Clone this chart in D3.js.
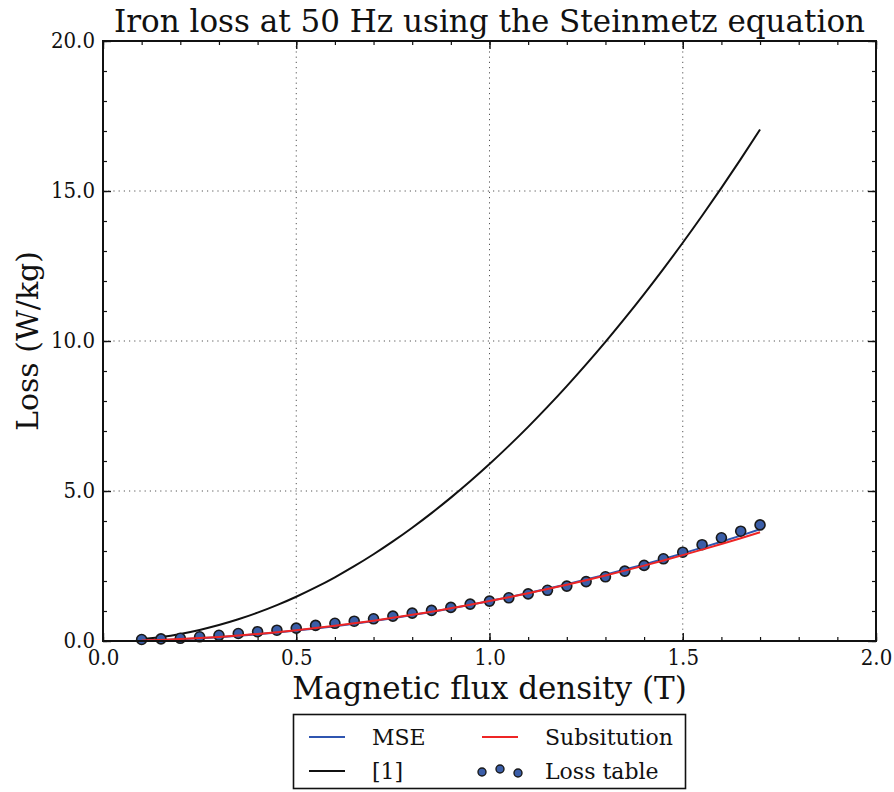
<!DOCTYPE html>
<html>
<head>
<meta charset="utf-8">
<script src="https://cdn.jsdelivr.net/npm/d3@7"></script>
<style>
  html, body { margin: 0; padding: 0; background: #fff; }
  svg text { font-family: "DejaVu Serif", serif; fill: #111; }
  svg text.cond { font-family: "DejaVu Serif Condensed", "DejaVu Serif", serif; font-stretch: condensed; }
</style>
</head>
<body>
<svg id="chart" width="894" height="792"></svg>
<script>
// Magnetic flux density samples (T)
const fluxDensity = [0.10, 0.15, 0.20, 0.25, 0.30, 0.35, 0.40, 0.45, 0.50, 0.55, 0.60,
  0.65, 0.70, 0.75, 0.80, 0.85, 0.90, 0.95, 1.00, 1.05, 1.10, 1.15, 1.20, 1.25, 1.30,
  1.35, 1.40, 1.45, 1.50, 1.55, 1.60, 1.65, 1.70];

// Measured loss table (W/kg)
const lossTable = [0.05, 0.07, 0.09, 0.14, 0.19, 0.25, 0.31, 0.36, 0.43, 0.52, 0.59,
  0.66, 0.74, 0.83, 0.93, 1.02, 1.12, 1.23, 1.33, 1.44, 1.57, 1.69, 1.83, 1.98, 2.14,
  2.33, 2.52, 2.74, 2.96, 3.21, 3.44, 3.66, 3.87];

// Steinmetz fit by least squares (W/kg)
const lossMSE = [0.015, 0.034, 0.059, 0.090, 0.129, 0.174, 0.225, 0.283, 0.347, 0.417, 0.494,
  0.577, 0.666, 0.761, 0.863, 0.970, 1.084, 1.204, 1.330, 1.462, 1.600, 1.744, 1.894, 2.051, 2.213,
  2.381, 2.555, 2.735, 2.921, 3.112, 3.310, 3.514, 3.723];

// Steinmetz fit by substitution (W/kg)
const lossSubstitution = [0.017, 0.037, 0.064, 0.097, 0.137, 0.183, 0.235, 0.294, 0.359, 0.430, 0.507,
  0.589, 0.678, 0.772, 0.872, 0.978, 1.090, 1.207, 1.330, 1.459, 1.593, 1.732, 1.877, 2.028, 2.184,
  2.345, 2.512, 2.685, 2.862, 3.045, 3.233, 3.427, 3.626];

// Steinmetz coefficients from reference [1] (W/kg)
const lossRef1 = [0.059, 0.133, 0.236, 0.369, 0.531, 0.723, 0.944, 1.195, 1.475, 1.785, 2.124,
  2.493, 2.891, 3.319, 3.776, 4.263, 4.779, 5.325, 5.900, 6.505, 7.139, 7.803, 8.496, 9.219, 9.971,
  10.753, 11.564, 12.405, 13.275, 14.175, 15.104, 16.063, 17.051];

const xTicks = [0.0, 0.5, 1.0, 1.5, 2.0];
const yTicks = [0.0, 5.0, 10.0, 15.0, 20.0];
const xMinorTicks = d3.range(0, 2.0001, 0.1);
const yMinorTicks = d3.range(0, 20.0001, 1);

const titleText = "Iron loss at 50 Hz using the Steinmetz equation";
const xLabel = "Magnetic flux density (T)";
const yLabel = "Loss (W/kg)";

const svg = d3.select("#chart");
const plot = { left: 103, right: 876, top: 41, bottom: 641 };

const x = d3.scaleLinear().domain([0, 2]).range([plot.left, plot.right]);
const y = d3.scaleLinear().domain([0, 20]).range([plot.bottom, plot.top]);

const colors = { mse: "#2f55b0", sub: "#ee2525", ref: "#111111", marker: "#3b5ea8" };

// dotted grid at inner major ticks
const grid = svg.append("g").attr("stroke", "#555").attr("stroke-width", 1).attr("stroke-dasharray", "1.2,4");
grid.selectAll(".gx").data(xTicks.slice(1, -1)).join("line")
  .attr("x1", d => x(d)).attr("x2", d => x(d)).attr("y1", plot.top).attr("y2", plot.bottom);
grid.selectAll(".gy").data(yTicks.slice(1, -1)).join("line")
  .attr("y1", d => y(d)).attr("y2", d => y(d)).attr("x1", plot.left).attr("x2", plot.right);

// short inward minor ticks on all four sides
function minorTicks(gen, values, transform) {
  const g = svg.append("g").attr("transform", transform)
    .call(gen.tickValues(values).tickSize(-4).tickFormat(""));
  g.select(".domain").remove();
  g.selectAll("line").attr("stroke", "#111").attr("stroke-width", 1.2);
}
minorTicks(d3.axisBottom(x), xMinorTicks, `translate(0,${plot.bottom})`);
minorTicks(d3.axisTop(x), xMinorTicks, `translate(0,${plot.top})`);
minorTicks(d3.axisLeft(y), yMinorTicks, `translate(${plot.left},0)`);
minorTicks(d3.axisRight(y), yMinorTicks, `translate(${plot.right},0)`);

// longer inward major ticks with labels on bottom and left
const fmt = d3.format(".1f");
const xb = svg.append("g").attr("transform", `translate(0,${plot.bottom})`)
  .call(d3.axisBottom(x).tickValues(xTicks).tickSize(-8).tickPadding(3).tickFormat(fmt));
const xt = svg.append("g").attr("transform", `translate(0,${plot.top})`)
  .call(d3.axisTop(x).tickValues(xTicks).tickSize(-8).tickFormat(""));
const yl = svg.append("g").attr("transform", `translate(${plot.left},0)`)
  .call(d3.axisLeft(y).tickValues(yTicks).tickSize(-8).tickPadding(8).tickFormat(fmt));
const yr = svg.append("g").attr("transform", `translate(${plot.right},0)`)
  .call(d3.axisRight(y).tickValues(yTicks).tickSize(-8).tickFormat(""));
[xb, xt, yl, yr].forEach(g => {
  g.select(".domain").remove();
  g.selectAll("line").attr("stroke", "#111").attr("stroke-width", 1.4);
  g.selectAll("text").attr("font-family", null).attr("class", "cond")
    .style("font-size", "22px").attr("fill", "#111");
});
xb.selectAll("text").attr("dy", "0.95em");
yl.selectAll("text").attr("dy", "0.3em");

// series lines
const line = d3.line().x((d, i) => x(fluxDensity[i])).y(d => y(d)).curve(d3.curveMonotoneX);
svg.append("path").datum(lossRef1).attr("d", line).attr("fill", "none")
  .attr("stroke", colors.ref).attr("stroke-width", 2);
svg.append("path").datum(lossMSE).attr("d", line).attr("fill", "none")
  .attr("stroke", colors.mse).attr("stroke-width", 2);

// loss table markers
svg.append("g").selectAll("circle").data(lossTable).join("circle")
  .attr("cx", (d, i) => x(fluxDensity[i])).attr("cy", d => y(d)).attr("r", 5)
  .attr("fill", colors.marker).attr("stroke", "#1a1a1a").attr("stroke-width", 1.6);

svg.append("path").datum(lossSubstitution).attr("d", line).attr("fill", "none")
  .attr("stroke", colors.sub).attr("stroke-width", 2);

// plot frame
svg.append("rect").attr("x", plot.left).attr("y", plot.top)
  .attr("width", plot.right - plot.left).attr("height", plot.bottom - plot.top)
  .attr("fill", "none").attr("stroke", "#111").attr("stroke-width", 2);

// title and axis labels
svg.append("text").attr("x", (plot.left + plot.right) / 2).attr("y", 32)
  .attr("text-anchor", "middle").style("font-size", "31px").text(titleText);
svg.append("text").attr("x", (plot.left + plot.right) / 2).attr("y", 699)
  .attr("text-anchor", "middle").style("font-size", "31px").text(xLabel);
svg.append("text").attr("transform", `translate(38,${(plot.top + plot.bottom) / 2}) rotate(-90)`)
  .attr("text-anchor", "middle").style("font-size", "30px").text(yLabel);

// legend
const legendItems = [
  { label: "MSE", type: "line", color: colors.mse, col: 0, row: 0 },
  { label: "Subsitution", type: "line", color: colors.sub, col: 1, row: 0 },
  { label: "[1]", type: "line", color: colors.ref, col: 0, row: 1 },
  { label: "Loss table", type: "dots", color: colors.marker, col: 1, row: 1 }
];
const legend = svg.append("g");
legend.append("rect").attr("x", 293.5).attr("y", 714.5).attr("width", 392).attr("height", 74)
  .attr("fill", "#fff").attr("stroke", "#111").attr("stroke-width", 1.6);
const colX = [309, 482];
const rowY = [737, 771];
legendItems.forEach(it => {
  const x0 = colX[it.col], y0 = rowY[it.row];
  if (it.type === "line") {
    legend.append("line").attr("x1", x0).attr("x2", x0 + 36).attr("y1", y0).attr("y2", y0)
      .attr("stroke", it.color).attr("stroke-width", 2);
  } else {
    [[0, 1], [18, -2], [36, 2]].forEach(([dx, dy]) => {
      legend.append("circle").attr("cx", x0 + dx).attr("cy", y0 + dy).attr("r", 4)
        .attr("fill", it.color).attr("stroke", "#1a1a1a").attr("stroke-width", 1.4);
    });
  }
  legend.append("text").attr("x", x0 + 63).attr("y", y0 + 8).style("font-size", "22px").text(it.label);
});
</script>
</body>
</html>
